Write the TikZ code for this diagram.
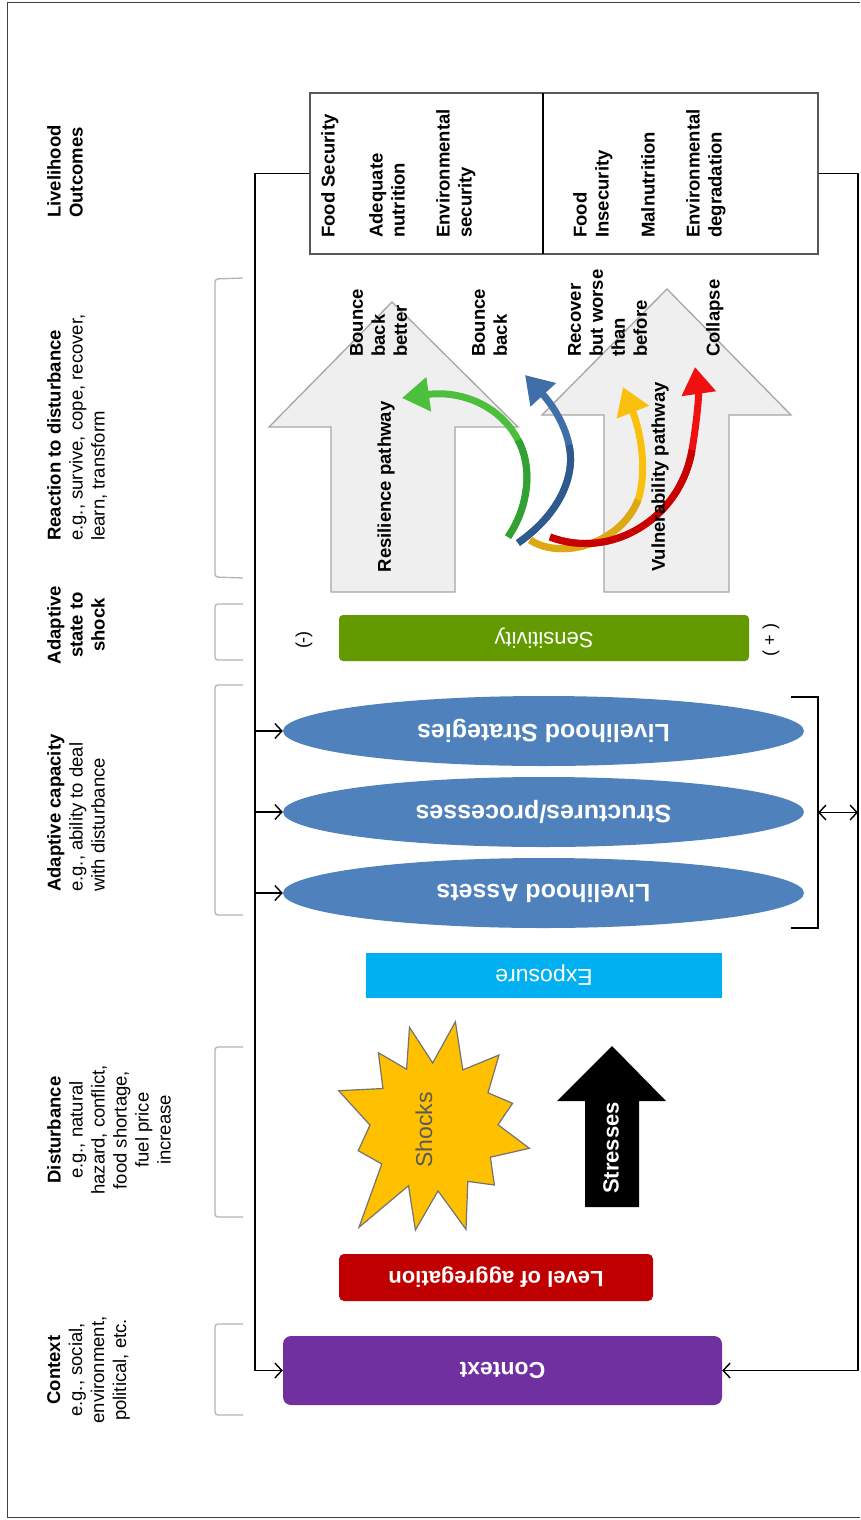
\documentclass[tikz,border=0pt]{standalone}
\usepackage{fontspec}
\setmainfont{Liberation Sans}
\usetikzlibrary{arrows.meta,shapes.geometric}
\definecolor{gbrk}{HTML}{B4B4B4}
\definecolor{garrowfill}{HTML}{EFEFEF}
\definecolor{garrowline}{HTML}{A6A6A6}
\definecolor{sensi}{HTML}{629A00}
\definecolor{expoc}{HTML}{00B0F0}
\definecolor{lvlc}{HTML}{C00000}
\definecolor{ctxc}{HTML}{7030A0}
\definecolor{ellc}{HTML}{4F81BD}
\definecolor{shockc}{HTML}{FFC000}
\definecolor{cgreen}{HTML}{4CC03C}
\definecolor{cgreend}{HTML}{33A033}
\definecolor{cblue}{HTML}{3F6FA8}
\definecolor{cblued}{HTML}{2E5A8E}
\definecolor{cyellow}{HTML}{FBBF0E}
\definecolor{cyellowd}{HTML}{DCA815}
\definecolor{cred}{HTML}{F01010}
\definecolor{credd}{HTML}{C80000}
\begin{document}
\begin{tikzpicture}[x=1pt,y=-1pt,
  lbl/.style={font=\fontsize{18.5}{22}\selectfont, rotate=90, inner sep=0pt},
  bl/.style={lbl, font=\fontsize{18.5}{22}\selectfont\bfseries},
  brk/.style={draw=gbrk, line width=1.3pt, rounded corners=3pt},
  conn/.style={draw=black, line width=1.4pt},
  barb/.style={-{Straight Barb[length=7pt,width=15pt]}},
  bar/.style={rotate=180, inner sep=0pt, text=white, font=\fontsize{22}{26}\selectfont\bfseries},
  ell/.style={ellipse, fill=ellc, minimum width=521pt, minimum height=70pt, rotate=180, inner sep=0pt, text=white, font=\fontsize{25}{30}\selectfont\bfseries},
  garrow/.style={fill=garrowfill, draw=garrowline, line width=1.3pt},
  curv/.style={line width=7pt, -{Triangle[length=27pt,width=33pt]}},
  tailseg/.style={line width=7pt}
]
\useasboundingbox (0,0) rectangle (860,1520);
% frame
\draw[line width=1pt, black!75] (860,3) -- (7.5,3) -- (7.5,1517) -- (860,1517);

% left column labels
\node[bl, anchor=north west, align=left] (lo) at (47,218) {Livelihood\\Outcomes};
\node[lbl, anchor=north west, align=left] (rd) at (47,541) {\textbf{Reaction to disturbance}\\e.g., survive, cope, recover,\\learn, transform};
\node[bl, anchor=north, align=center] (as) at (47,625) {Adaptive\\state to\\shock};
\node[lbl, anchor=north west, align=left] (ac) at (47,892) {\textbf{Adaptive capacity}\\e.g., ability to deal\\with disturbance};
\node[lbl, anchor=north, align=center] (dist) at (47,1130) {\textbf{Disturbance}\\e.g., natural\\hazard, conflict,\\food shortage,\\fuel price\\increase};
\node[lbl, anchor=north, align=center] (ctxl) at (47,1370) {\textbf{Context}\\e.g., social,\\environment,\\political, etc.};

% brackets
\draw[brk] (243,278) -- (215,279) -- (215,577) -- (243,578);
\draw[brk] (243,604) -- (215,604) -- (215,660) -- (243,660);
\draw[brk] (243,685) -- (215,685) -- (215,915) -- (243,915);
\draw[brk] (243,1047) -- (215,1047) -- (215,1217) -- (243,1217);
\draw[brk] (243,1324) -- (215,1324) -- (215,1415) -- (243,1415);

% outcomes box
\node[draw=black!65, line width=2.2pt, minimum width=508pt, minimum height=161pt, inner sep=0pt] (ob) at (564,173.5) {};
\draw[line width=1.3pt] (543,93) -- (543,254);
\node[bl, anchor=north west, align=left] (fs) at (321,238) {Food Security};
\node[bl, anchor=north west, align=left] (an) at (369,238) {Adequate\\nutrition};
\node[bl, anchor=north west, align=left] (es) at (436,238) {Environmental\\security};
\node[bl, anchor=north west, align=left] (fi) at (573,238) {Food\\Insecurity};
\node[bl, anchor=north west, align=left] (mn) at (641,238) {Malnutrition};
\node[bl, anchor=north west, align=left] (ed) at (686,238) {Environmental\\degradation};

% big grey arrows
\draw[garrow] (331,592) -- (331,427) -- (269,427) -- (392,302) -- (518,427) -- (455,427) -- (455,592) -- cycle;
\draw[garrow] (604,592) -- (604,415) -- (542,415) -- (667,289) -- (791,415) -- (729,415) -- (729,592) -- cycle;

\node[bl, anchor=north west, align=left] (bbb) at (350,357) {Bounce\\back\\better};
\node[bl, anchor=north west, align=left] (bb) at (472,357) {Bounce\\back};
\node[bl, anchor=north west, align=left] (rw) at (568,357) {Recover\\but worse\\than\\before};
\node[bl, anchor=north west, align=left] (col) at (706,357) {Collapse};

% curved arrows (darker first half, lighter second half)
\draw[curv, cgreen] (508,537) .. controls (530,505) and (532,465) .. (518,440) .. controls (500,405) and (460,390) .. (402,398);
\draw[tailseg, cgreend] (508,537) .. controls (530,505) and (532,465) .. (518,440);
\draw[curv, cblue] (518,543) .. controls (565,510) and (575,470) .. (569,445) .. controls (564,420) and (548,400) .. (525,375);
\draw[tailseg, cblued] (518,543) .. controls (565,510) and (575,470) .. (569,445);
\draw[curv, cyellow] (530,540) .. controls (560,560) and (620,545) .. (638,500) .. controls (648,470) and (640,430) .. (623,387);
\draw[tailseg, cyellowd] (530,540) .. controls (560,560) and (620,545) .. (638,500);
\draw[curv, cred] (550,537) .. controls (610,560) and (680,520) .. (692,450) .. controls (697,420) and (699,395) .. (695,367);
\draw[tailseg, credd] (550,537) .. controls (610,560) and (680,520) .. (692,450);

\node[bl] (rp) at (386,487) {Resilience pathway};
\node[bl] (vp) at (660,477) {Vulnerability pathway};

% sensitivity
\node[bar, fill=sensi, rounded corners=4pt, minimum width=410pt, minimum height=46pt, font=\fontsize{22}{26}\selectfont] (sens) at (544,638) {Sensitivity};
\node[lbl, font=\fontsize{18}{20}\selectfont] (minus) at (304,640) {(-)};
\node[lbl, font=\fontsize{18}{20}\selectfont] (plus) at (771,640) {( + )};

% ellipses
\node[ell] (strat) at (543.5,731) {Livelihood Strategies};
\node[ell] (struct) at (543.5,812) {Structures/processes};
\node[ell] (assets) at (543.5,893) {Livelihood Assets};

\draw[line width=1.4pt] (791,697) -- (818,697) -- (818,928) -- (791,928);
\coordinate (bm) at (818,812.5);
\coordinate (rr) at (858,812.5);
\draw[conn, {Straight Barb[length=7pt,width=15pt]}-{Straight Barb[length=7pt,width=15pt]}] (bm) -- (rr);

% exposure
\node[bar, fill=expoc, minimum width=356pt, minimum height=45pt, font=\fontsize{23}{26}\selectfont] (expo) at (544,975.5) {Exposure};

% shocks star
\draw[fill=shockc, draw=black!55, line width=1.2pt]
 (455.4,1021.7) -- (432.7,1063) -- (409.5,1027.3) -- (406.6,1069.2) -- (378.4,1052.7) -- (382.9,1088.5)
 -- (338.7,1090.7) -- (370,1125.1) -- (358.2,1150.7) -- (381.8,1164) -- (359,1227.3) -- (408.5,1185.7)
 -- (415.4,1230) -- (438,1190.9) -- (466,1229.3) -- (467.8,1181.4) -- (494.4,1185) -- (490.4,1157.2)
 -- (529.4,1148.3) -- (498,1124.7) -- (512.6,1103.3) -- (488,1092.8) -- (499,1055) -- (462.8,1069.9) -- cycle;
\node[lbl, text=black!65, font=\fontsize{23}{26}\selectfont] (shk) at (424,1130) {Shocks};

% stresses
\fill[black] (585,1207) -- (585,1101) -- (557,1101) -- (612,1046) -- (666,1101) -- (639,1101) -- (639,1207) -- cycle;
\node[lbl, text=white, font=\fontsize{22}{26}\selectfont\bfseries] (str) at (611,1148) {Stresses};

% level and context
\node[bar, fill=lvlc, rounded corners=5pt, minimum width=314pt, minimum height=47pt] (lvl) at (496,1277.5) {Level of aggregation};
\node[bar, fill=ctxc, rounded corners=8pt, minimum width=439pt, minimum height=69pt, font=\fontsize{23}{26}\selectfont\bfseries] (ctx) at (502.5,1370.5) {Context};

% connectors
\coordinate (lx) at (255,0);
\coordinate (rx) at (858,0);
\draw[conn, barb] (ob.west) -| (lx |- ctx.east) -- (ctx.east);
\draw[conn, barb] (ob.east) -| (rx |- ctx.west) -- (ctx.west);
\draw[conn, barb] (lx |- strat.east) -- (strat.east);
\draw[conn, barb] (lx |- struct.east) -- (struct.east);
\draw[conn, barb] (lx |- assets.east) -- (assets.east);
\end{tikzpicture}
\end{document}
